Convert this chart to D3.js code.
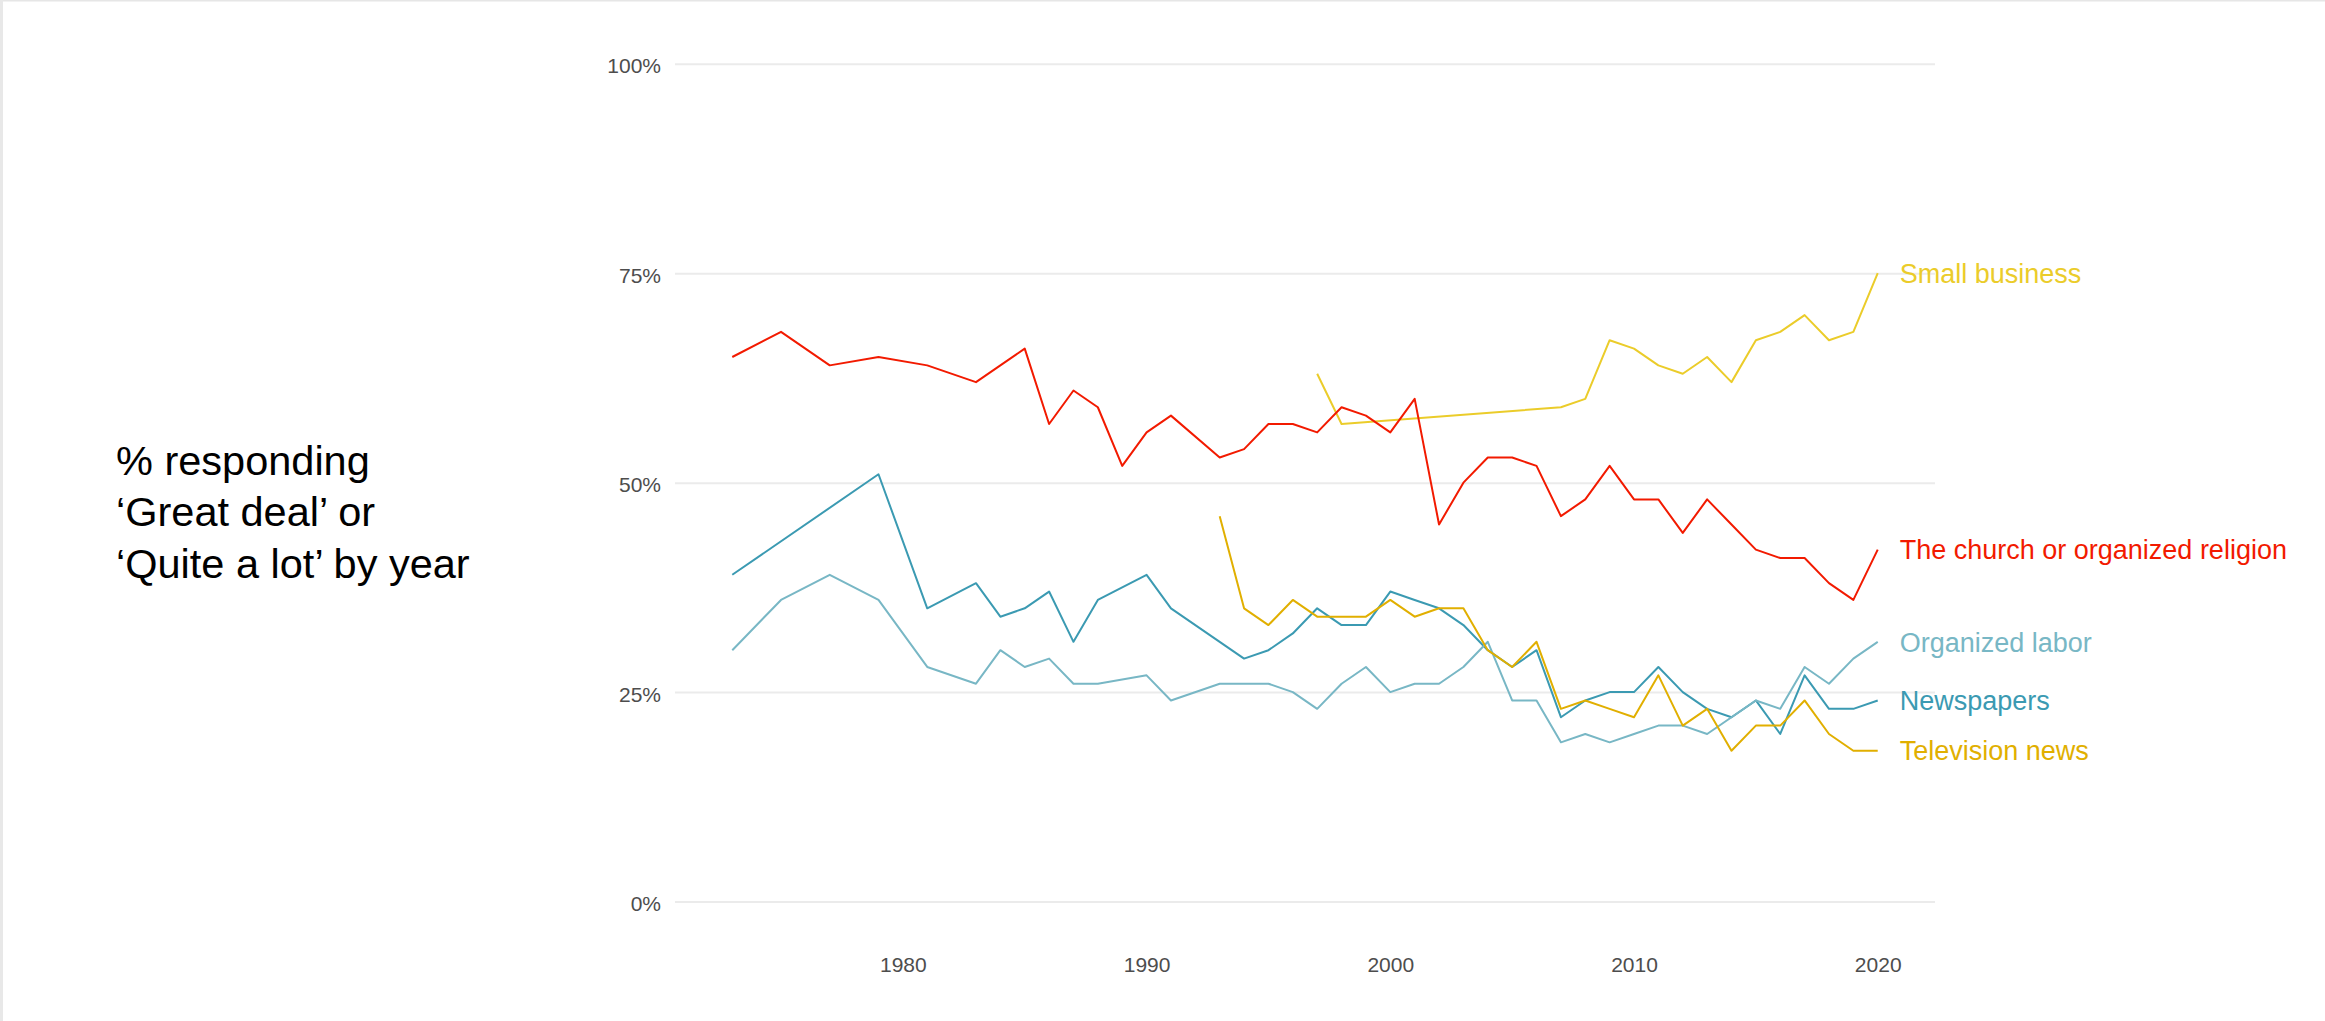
<!DOCTYPE html>
<html>
<head>
<meta charset="utf-8">
<script src="https://cdn.jsdelivr.net/npm/d3@7"></script>
<style>
  html, body { margin: 0; padding: 0; background: #fff; }
  svg { display: block; }
  text { font-family: "Liberation Sans", Arial, sans-serif; }
</style>
</head>
<body>
<script>
// ---------- DATA ----------
const seriesNames = ["Newspapers", "Organized labor", "Small business", "Television news", "The church or organized religion"];
const seriesColors = ["#3B9AB2", "#78B7C5", "#EBCC2A", "#E1AF00", "#F21A00"];

const newspapersYears = [1973,1979,1981,1983,1984,1985,1986,1987,1988,1990,1991,1993,1994,1995,1996,1997,1998,1999,2000,2001,2002,2003,2004,2005,2006,2007,2008,2009,2010,2011,2012,2013,2014,2015,2016,2017,2018,2019,2020];
const newspapersValues = [39,51,35,38,34,35,37,31,36,39,35,31,29,30,32,35,33,33,37,36,35,33,30,28,30,22,24,25,25,28,25,23,22,24,20,27,23,23,24];

const laborYears = [1973,1975,1977,1979,1981,1983,1984,1985,1986,1987,1988,1990,1991,1993,1994,1995,1996,1997,1998,1999,2000,2001,2002,2003,2004,2005,2006,2007,2008,2009,2010,2011,2012,2013,2014,2015,2016,2017,2018,2019,2020];
const laborValues = [30,36,39,36,28,26,30,28,29,26,26,27,24,26,26,26,25,23,26,28,25,26,26,28,31,24,24,19,20,19,20,21,21,20,22,24,23,28,26,29,31];

const smallBusinessYears = [1997,1998,2007,2008,2009,2010,2011,2012,2013,2014,2015,2016,2017,2018,2019,2020];
const smallBusinessValues = [63,57,59,60,67,66,64,63,65,62,67,68,70,67,68,75];

const tvNewsYears = [1993,1994,1995,1996,1997,1998,1999,2000,2001,2002,2003,2004,2005,2006,2007,2008,2009,2010,2011,2012,2013,2014,2015,2016,2017,2018,2019,2020];
const tvNewsValues = [46,35,33,36,34,34,34,36,34,35,35,30,28,31,23,24,23,22,27,21,23,18,21,21,24,20,18,18];

const churchYears = [1973,1975,1977,1979,1981,1983,1985,1986,1987,1988,1989,1990,1991,1993,1994,1995,1996,1997,1998,1999,2000,2001,2002,2003,2004,2005,2006,2007,2008,2009,2010,2011,2012,2013,2014,2015,2016,2017,2018,2019,2020];
const churchValues = [65,68,64,65,64,62,66,57,61,59,52,56,58,53,54,57,57,56,59,58,56,60,45,50,53,53,52,46,48,52,48,48,44,48,45,42,41,41,38,36,42];

const yTicks = [0, 0.25, 0.5, 0.75, 1];
const xTicks = [1980, 1990, 2000, 2010, 2020];
const titleLines = ["% responding", "\u2018Great deal\u2019 or", "\u2018Quite a lot\u2019 by year"];

// ---------- BUILD ----------
const seriesYears = [newspapersYears, laborYears, smallBusinessYears, tvNewsYears, churchYears];
const seriesValues = [newspapersValues, laborValues, smallBusinessValues, tvNewsValues, churchValues];
const series = seriesNames.map((name, i) => ({
  name, color: seriesColors[i],
  points: seriesYears[i].map((yr, j) => ({ year: yr, value: seriesValues[i][j] / 100 }))
}));

const W = 2325, H = 1021;
const svg = d3.select("body").append("svg").attr("width", W).attr("height", H);

// page border (screenshot edge)
svg.append("rect").attr("x", 0).attr("y", 0).attr("width", W).attr("height", 1.5).attr("fill", "#e6e6e6");
svg.append("rect").attr("x", 0).attr("y", 0).attr("width", 3).attr("height", H).attr("fill", "#e8e8e8");

const xMin = 1973, xMax = 2020;
const xPad = (xMax - xMin) * 0.05;
const x = d3.scaleLinear().domain([xMin - xPad, xMax + xPad]).range([675, 1935]);
const y = d3.scaleLinear().domain([-0.05, 1.05]).range([943.4, 21.9]);

// gridlines
const yAxis = d3.axisLeft(y).tickValues(yTicks).tickFormat(d3.format(".0%")).tickSize(-(1935 - 675)).tickPadding(14);
const gy = svg.append("g").attr("transform", "translate(675,0)").call(yAxis);
gy.select(".domain").remove();
gy.selectAll(".tick line").attr("stroke", "#EBEBEB").attr("stroke-width", 2);
gy.selectAll(".tick text").attr("fill", "#4D4D4D").attr("font-size", 21).attr("dy", "0.43em")
  .attr("font-family", "'Liberation Sans', Arial, sans-serif");

const xAxis = d3.axisBottom(x).tickValues(xTicks).tickFormat(d3.format("d")).tickSize(0).tickPadding(0);
const gx = svg.append("g").attr("transform", "translate(0,964)").call(xAxis);
gx.select(".domain").remove();
gx.selectAll(".tick text").attr("fill", "#4D4D4D").attr("font-size", 21).attr("dy", "0.36em")
  .attr("font-family", "'Liberation Sans', Arial, sans-serif");

// lines
const line = d3.line().x(d => x(d.year)).y(d => y(d.value));
svg.append("g").selectAll("path").data(series).join("path")
  .attr("d", d => line(d.points))
  .attr("fill", "none")
  .attr("stroke", d => d.color)
  .attr("stroke-width", 2)
  .attr("stroke-linejoin", "round");

// end labels
svg.append("g").selectAll("text").data(series).join("text")
  .attr("x", d => x(d.points[d.points.length - 1].year) + 22)
  .attr("y", d => y(d.points[d.points.length - 1].value))
  .attr("dy", "0.36em")
  .attr("fill", d => d.color)
  .attr("font-size", 27)
  .text(d => d.name);

// left title
svg.append("text").attr("x", 116).attr("y", 475).attr("font-size", 41.5).attr("fill", "#000")
  .selectAll("tspan").data(titleLines).join("tspan")
  .attr("x", 116).attr("dy", (d, i) => i === 0 ? 0 : 51.3)
  .text(d => d);
</script>
</body>
</html>
